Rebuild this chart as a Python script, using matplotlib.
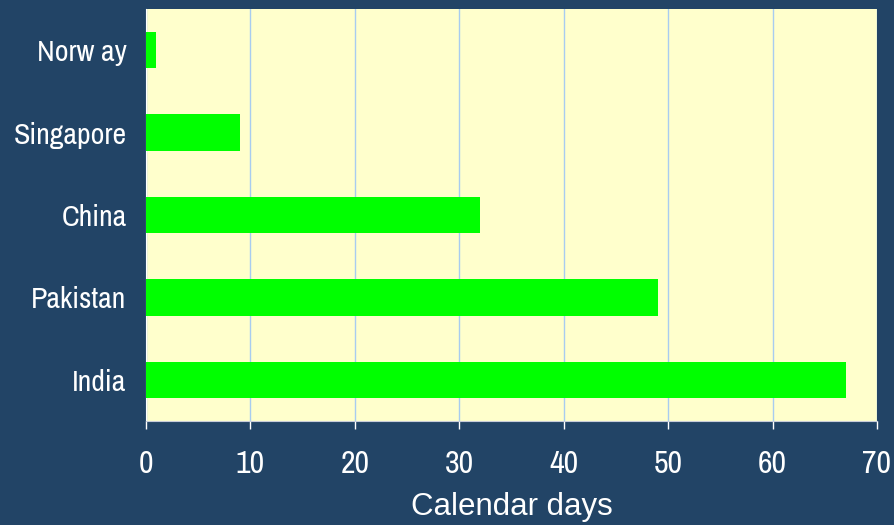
import matplotlib.pyplot as plt
from matplotlib import font_manager

pays = ['India', 'Pakistan', 'China', 'Singapore', 'Norw ay']
jours = [67, 49, 32, 9, 1]
graduations = [0, 10, 20, 30, 40, 50, 60, 70]

fond = '#224466'
zone = '#FFFFCC'
vert = '#00FF00'

# recherche d'une police étroite (type Arial Narrow)
etroit = None
for f in font_manager.fontManager.ttflist:
    if 'Narrow' in f.name or 'Condensed' in f.name:
        etroit = f.name
        break
if etroit is None:
    for f in font_manager.fontManager.ttflist:
        if f.stretch in ('condensed', 'semi-condensed', 'extra-condensed'):
            etroit = f.name
            break

fig = plt.figure(figsize=(8.95, 5.25), dpi=100, facecolor=fond)
ax = fig.add_axes([146 / 895, 1 - 421 / 525, (877 - 146) / 895, (421 - 9) / 525])
ax.set_facecolor(zone)

ax.barh(range(len(pays)), jours, height=0.44, color=vert, zorder=3)

ax.set_xlim(0, 70)
ax.set_ylim(-0.5, len(pays) - 0.5)
ax.set_xticks(graduations)
ax.set_yticks(range(len(pays)))
if etroit:
    ax.set_xticklabels([str(g) for g in graduations], family=etroit, fontsize=23)
    ax.set_yticklabels(pays, family=etroit, fontsize=21.5)
else:
    ax.set_xticklabels([str(g) for g in graduations], family='Liberation Sans', fontsize=20)
    ax.set_yticklabels(pays, family='Liberation Sans', fontsize=17)
ax.grid(axis='x', color='#A8CCF0', linewidth=1, zorder=0)

ax.tick_params(axis='x', colors='white', length=6, width=1, pad=15, direction='out')
ax.tick_params(axis='y', length=0, pad=14)
for tl in ax.get_xticklabels() + ax.get_yticklabels():
    tl.set_color('white')

for s in ['top', 'right']:
    ax.spines[s].set_visible(False)
ax.spines['left'].set_color('white')
ax.spines['bottom'].set_color('#C8CCD8')

ax.set_xlabel('Calendar days', family='Liberation Sans', fontsize=22.5, color='white', labelpad=10)

fig.savefig('out.png', dpi=100, facecolor=fond)
